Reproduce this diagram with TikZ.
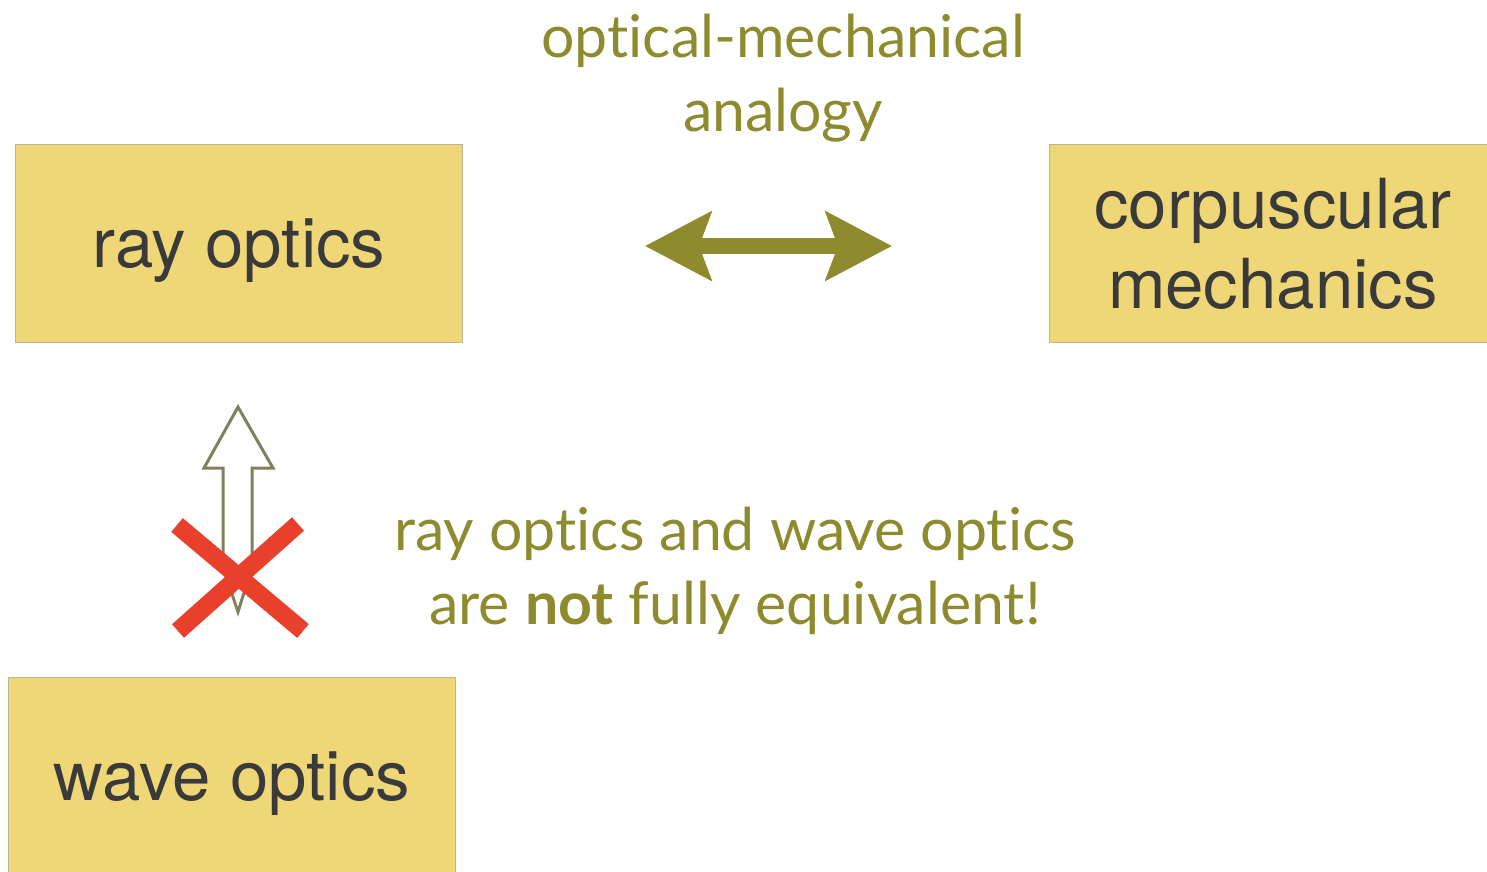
\documentclass[tikz,border=0pt]{standalone}
\usepackage{fontspec}
\usepackage{tikz}
\usetikzlibrary{arrows.meta}
\newfontfamily\boxfont{TeX Gyre Heros}
\newfontfamily\notefont[Ligatures={NoCommon,NoDiscretionary}]{Lato}
\definecolor{boxyellow}{RGB}{239,215,120}
\definecolor{boxedge}{RGB}{190,180,150}
\definecolor{olive}{RGB}{142,139,46}
\definecolor{hollowedge}{RGB}{128,128,92}
\definecolor{crossred}{RGB}{232,64,42}
\definecolor{inkgray}{RGB}{58,58,58}
\tikzset{
  topicbox/.style={draw=boxedge, fill=boxyellow, line width=1pt, anchor=north west,
    minimum width=447pt, minimum height=198pt, align=center, text=inkgray,
    font=\boxfont\fontsize{69}{80}\selectfont, inner sep=0pt},
  notetext/.style={text=olive, align=center, font=\notefont\fontsize{59}{74}\selectfont},
}

\begin{document}
\begin{tikzpicture}[x=1pt,y=-1pt]
\useasboundingbox (0,0) rectangle (1487,871);
% Boxes
\node[topicbox] (ray) at (15,144) {\raisebox{-7pt}[\height][\depth]{ray optics}};
\node[topicbox] (corp) at (1049,144) {corpuscular\\mechanics};
\node[topicbox] (wave) at (8,677) {\raisebox{-7pt}[\height][\depth]{wave optics}};
% Analogy
\node[notetext] (analogy) at (783,78) {optical-mechanical\\analogy};
\coordinate (al) at (645,246);
\coordinate (ar) at (892,246);
\draw[olive, line width=16pt, {Stealth[length=66pt,width=68pt,inset=12pt]}-{Stealth[length=66pt,width=68pt,inset=12pt]}] (al) -- (ar);
% Not equivalent
\draw[hollowedge, line width=3pt, fill=white, line join=miter]
  (238,407) -- (273,468) -- (252,468) -- (252,567) -- (238,612) -- (223,567)
  -- (223,468) -- (204,468) -- cycle;
\draw[crossred, line width=18pt] (177,525) -- (303,631);
\draw[crossred, line width=18pt] (298,524) -- (178,631);
\node[notetext] (noteq) at (735,571) {ray optics and wave optics\\are \textbf{not} fully equivalent!};
\end{tikzpicture}
\end{document}
